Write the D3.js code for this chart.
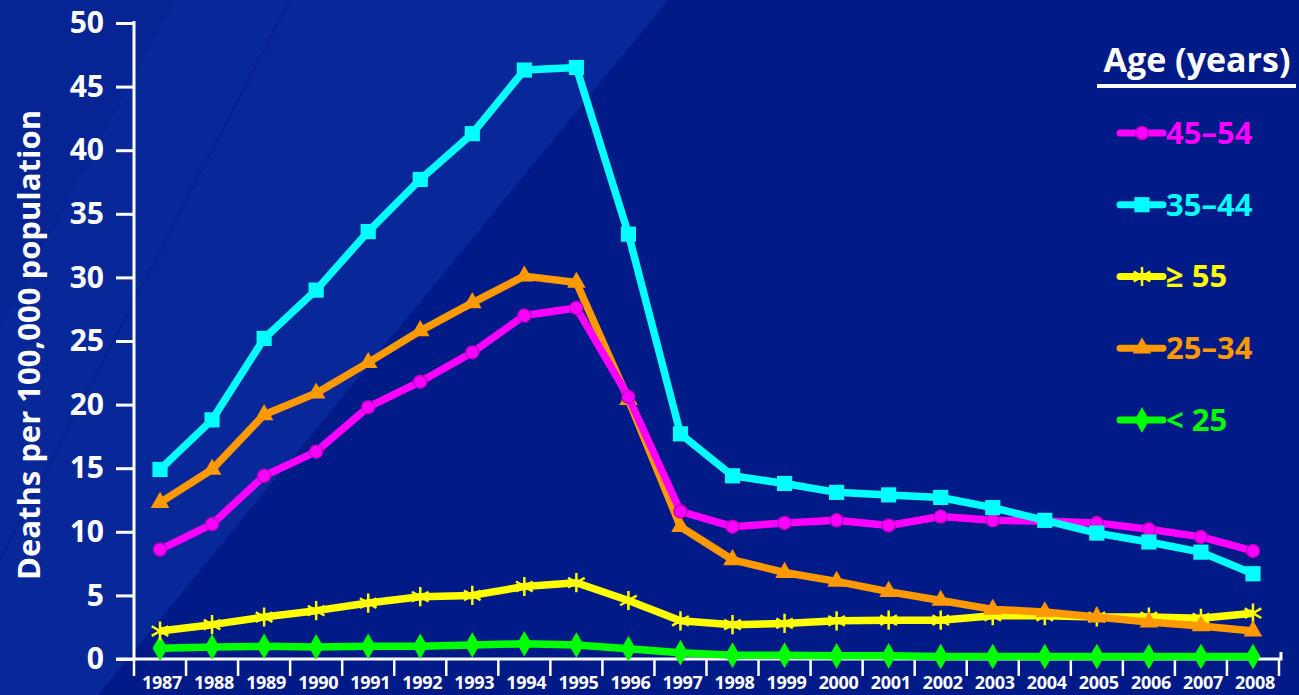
<!DOCTYPE html>
<html><head><meta charset="utf-8">
<script src="https://cdn.jsdelivr.net/npm/d3@7"></script>
<style>
html,body{margin:0;padding:0;background:#001a87;}
svg{display:block;font-family:"Open Sans",sans-serif;}
</style></head>
<body>
<svg id="c" width="1299" height="695"></svg>
<script>
const years = [1987,1988,1989,1990,1991,1992,1993,1994,1995,1996,1997,1998,1999,2000,2001,2002,2003,2004,2005,2006,2007,2008];
const age45_54 = [8.6,10.6,14.4,16.3,19.8,21.8,24.1,27.0,27.6,20.6,11.6,10.4,10.7,10.9,10.5,11.2,10.9,10.85,10.7,10.2,9.6,8.5];
const age35_44 = [14.9,18.8,25.2,29.0,33.6,37.7,41.3,46.3,46.5,33.4,17.7,14.4,13.8,13.1,12.9,12.7,11.9,10.9,9.9,9.2,8.4,6.7];
const age55plus = [2.2,2.7,3.3,3.8,4.4,4.9,5.0,5.7,6.0,4.6,3.0,2.7,2.8,3.0,3.05,3.05,3.4,3.4,3.3,3.3,3.2,3.6];
const age25_34 = [12.3,14.9,19.2,20.9,23.3,25.8,28.0,30.1,29.6,20.4,10.4,7.8,6.8,6.1,5.3,4.6,3.9,3.7,3.3,2.9,2.6,2.2];
const ageUnder25 = [0.85,0.95,1.0,0.95,1.0,1.0,1.1,1.2,1.1,0.8,0.5,0.3,0.3,0.25,0.25,0.2,0.2,0.2,0.2,0.2,0.2,0.2];
const yTicks = [0,5,10,15,20,25,30,35,40,45,50];
const seriesNames = ["45\u201354","35\u201344","\u2265 55","25\u201334","< 25"];

const svg = d3.select("#c");
const W = 1299, H = 695;

// background
svg.append("rect").attr("width",W).attr("height",H).attr("fill","#001a87");
svg.append("polygon").attr("points","0,0 668,0 98,695 0,695").attr("fill","#08289a");
svg.append("polygon").attr("points","0,0 175,0 0,330").attr("fill","#062494");
svg.append("line").attr("x1",290).attr("y1",0).attr("x2",0).attr("y2",560)
  .attr("stroke","#06208e").attr("stroke-width",2);

const x = d3.scaleBand().domain(years).range([134,1279]);
const y = d3.scaleLinear().domain([0,50]).range([659,23]);
const cx = d => x(d) + x.bandwidth()/2;

// y axis
const yAxis = svg.append("g").attr("transform","translate(134,0)")
  .call(d3.axisLeft(y).tickValues(yTicks).tickSize(18).tickPadding(12));
yAxis.select(".domain").attr("stroke","#fff").attr("stroke-width",3).attr("d","M0,21V659");
yAxis.selectAll(".tick line").attr("stroke","#fff").attr("stroke-width",3);
yAxis.selectAll(".tick text").attr("fill","#fff").attr("font-size",30).attr("font-weight",700)
  .attr("font-family","'Open Sans',sans-serif");

// x axis
const xAxis = svg.append("g").attr("transform","translate(0,659)")
  .call(d3.axisBottom(x).tickSize(0).tickPadding(17));
xAxis.select(".domain").attr("stroke","#fff").attr("stroke-width",3).attr("d","M116,0H1281V-7");
xAxis.selectAll(".tick text").attr("fill","#fff").attr("font-size",18).attr("font-weight",700)
  .attr("font-family","'Open Sans',sans-serif").attr("dx",2).attr("letter-spacing",-0.3);
const bounds = years.map(d => x(d)).concat([x(years[years.length-1]) + x.bandwidth()]);
xAxis.selectAll(".bnd").data(bounds).enter().append("line")
  .attr("x1",d=>d).attr("x2",d=>d).attr("y1",0).attr("y2",17)
  .attr("stroke","#fff").attr("stroke-width",2.5);

// y label
svg.append("text").attr("transform","translate(29,345) rotate(-90)")
  .attr("text-anchor","middle").attr("dy","0.35em").attr("fill","#fff").attr("font-size",31).attr("font-weight",700)
  .text("Deaths per 100,000 population");

const series = [
  {name:seriesNames[0], vals:age45_54, color:"#ff00ff", sym:"circle"},
  {name:seriesNames[1], vals:age35_44, color:"#00ffff", sym:"square"},
  {name:seriesNames[2], vals:age55plus, color:"#ffff00", sym:"star"},
  {name:seriesNames[3], vals:age25_34, color:"#ff9900", sym:"triangle"},
  {name:seriesNames[4], vals:ageUnder25, color:"#00ff00", sym:"diamond"}
];
const drawOrder = [4,2,3,0,1];

function marker(g, s, px, py){
  if (s.sym==="circle"){
    g.append("circle").attr("cx",px).attr("cy",py).attr("r",6.5).attr("fill",s.color)
      .attr("stroke","#c000c0").attr("stroke-width",1.5);
  } else if (s.sym==="square"){
    g.append("path").attr("transform",`translate(${px},${py})`).attr("d",d3.symbol(d3.symbolSquare,230)()).attr("fill",s.color);
  } else if (s.sym==="triangle"){
    g.append("path").attr("transform",`translate(${px},${py})`).attr("d",d3.symbol(d3.symbolTriangle,150)()).attr("fill",s.color);
  } else if (s.sym==="diamond"){
    g.append("path").attr("transform",`translate(${px},${py})`).attr("d",d3.symbol(d3.symbolDiamond,190)()).attr("fill",s.color);
  } else {
    g.append("path").attr("transform",`translate(${px},${py})`).attr("d",d3.symbol(d3.symbolAsterisk,260)())
      .attr("fill","none").attr("stroke",s.color).attr("stroke-width",2.5);
  }
}

const line = d3.line().x((d,i)=>cx(years[i])).y(d=>y(d));
drawOrder.forEach(k => {
  const s = series[k];
  const g = svg.append("g");
  g.append("path").attr("d",line(s.vals)).attr("fill","none").attr("stroke",s.color)
    .attr("stroke-width",7.5).attr("stroke-linejoin","round");
  s.vals.forEach((v,i)=>marker(g,s,cx(years[i]),y(v)));
});

// legend
svg.append("text").attr("x",1197).attr("y",72).attr("text-anchor","middle").attr("fill","#fff")
  .attr("font-size",34).attr("font-weight",700).text("Age (years)");
svg.append("line").attr("x1",1097).attr("x2",1296).attr("y1",86).attr("y2",86)
  .attr("stroke","#fff").attr("stroke-width",4);
const legY = d3.scalePoint().domain(seriesNames).range([133,420]);
series.forEach(s => {
  const ly = legY(s.name);
  const g = svg.append("g");
  g.append("line").attr("x1",1120).attr("x2",1163).attr("y1",ly).attr("y2",ly)
    .attr("stroke",s.color).attr("stroke-width",7).attr("stroke-linecap","round");
  marker(g,s,1142,ly);
  g.append("text").attr("x",1166).attr("y",ly).attr("dy","0.35em").attr("fill",s.color)
    .attr("font-size",31).attr("font-weight",700).text(s.name);
});
</script>
</body></html>
